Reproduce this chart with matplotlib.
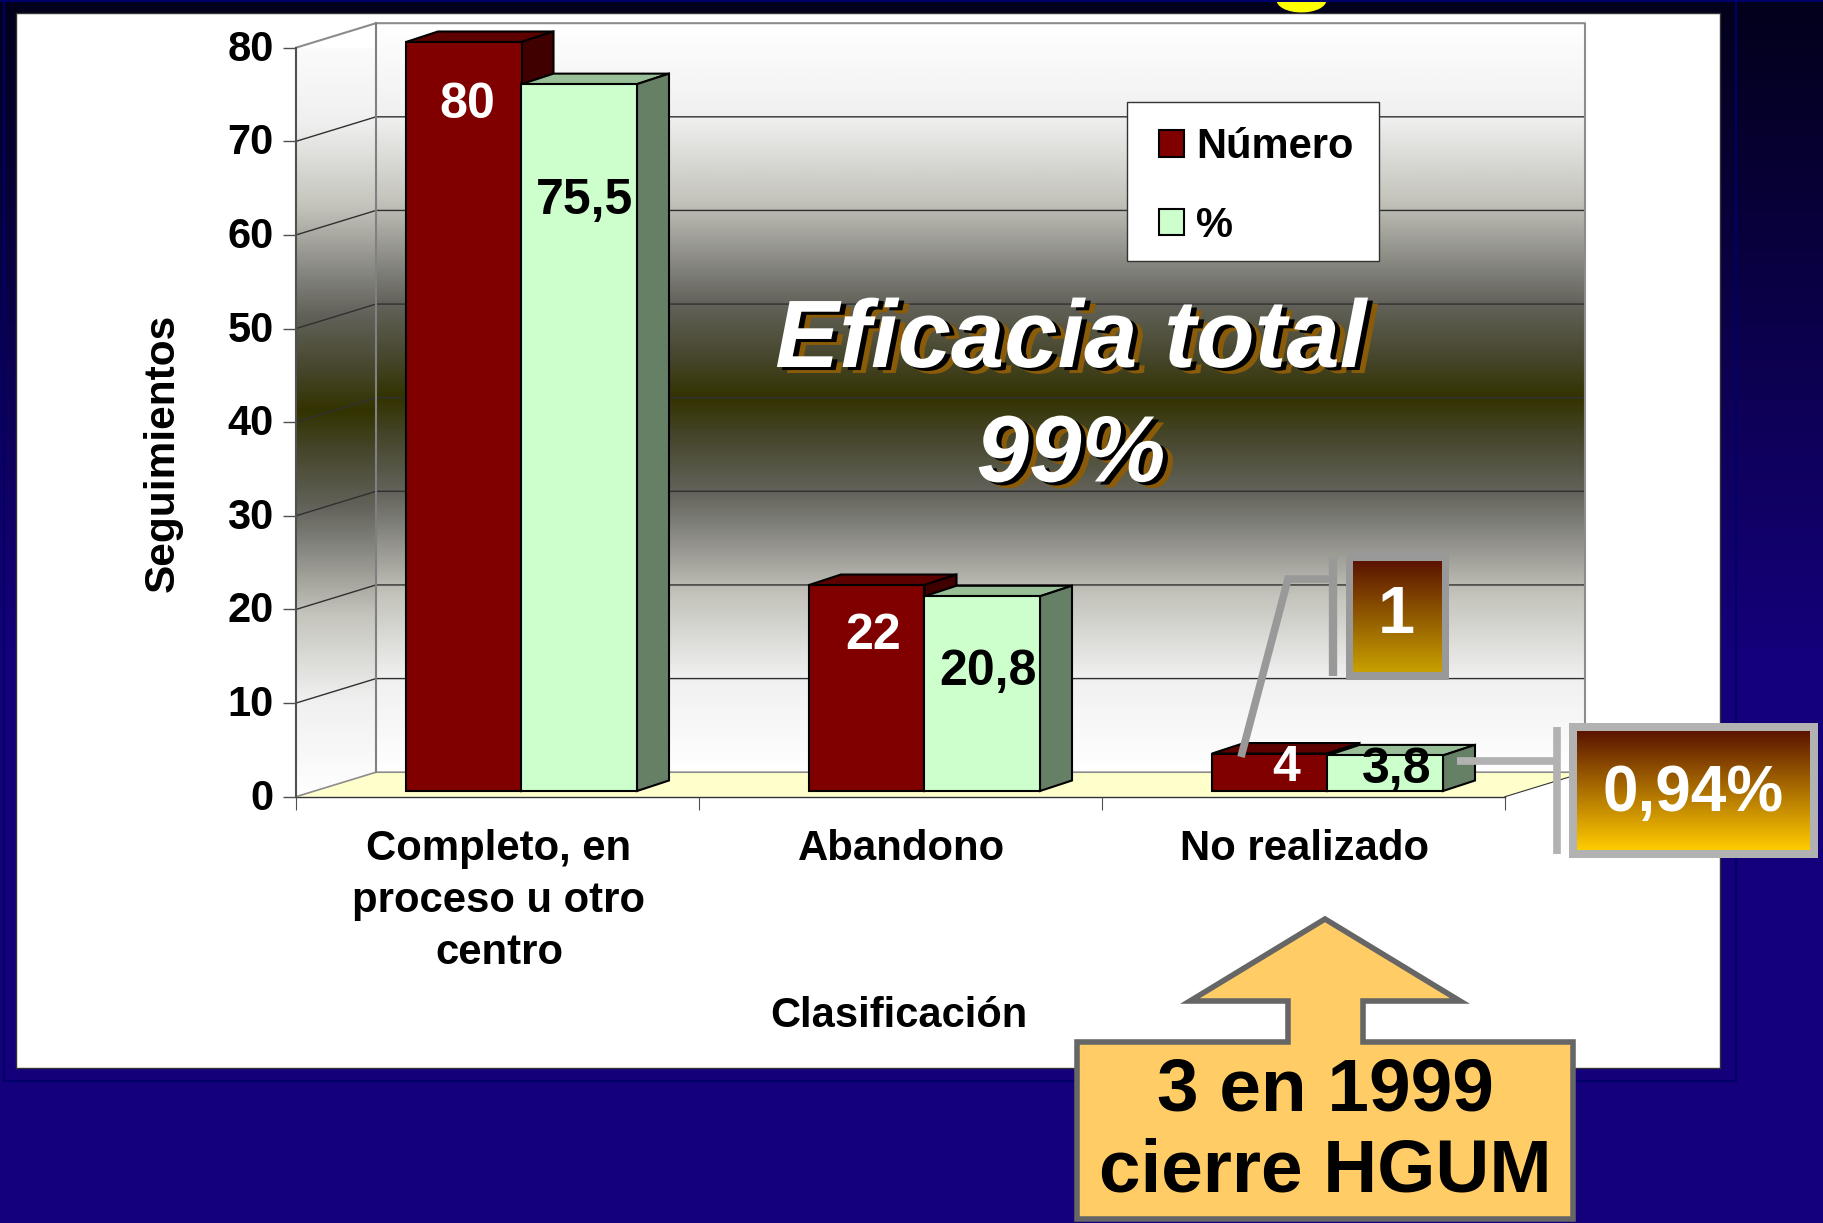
"""
Seguimientos por clasificacion: pseudo 3D columns on a slide background
"""

import matplotlib.patheffects as pe
import matplotlib.pyplot as plt
from matplotlib.colors import LinearSegmentedColormap
from matplotlib.lines import Line2D
from matplotlib.patches import Ellipse, Polygon, Rectangle
from matplotlib.transforms import Affine2D
import numpy as np

# * Data
CATEGORIES = ["Completo, en\nproceso u otro\ncentro", "Abandono", "No realizado"]
NUMERO = [80, 22, 4]
PORCENTAJE = [75.5, 20.8, 3.8]
NUMERO_LABELS = ["80", "22", "4"]
PORCENTAJE_LABELS = ["75,5", "20,8", "3,8"]
Y_TICKS = [0, 10, 20, 30, 40, 50, 60, 70, 80]

# * Layout, in pixels of the final image
W, H = 1824, 1223
AX_X0, AX_X1, AX_Y0, AX_Y80 = 296, 1505, 796.7, 47.7
CAT_PX = (AX_X1 - AX_X0) / 3
UNIT_PX = (AX_Y0 - AX_Y80) / 80
WALL_DX, WALL_DY = 80 / CAT_PX, 24.5 / UNIT_PX
BAR_W = 115.5 / CAT_PX
BAR_DX, BAR_DY = 32 / CAT_PX, 10.5 / UNIT_PX
NUM_OFFSETS = [(4, -63), (6, -51), (16, -14)]
PCT_OFFSETS = [(5, -117), (6, -76), (11, -15)]

FONT = "Liberation Sans"
RED, RED_TOP, RED_SIDE = "#800000", "#5c0000", "#400000"
GREEN, GREEN_TOP, GREEN_SIDE = "#ccffcc", "#99bf99", "#668066"
BOX_TOP = "#5a1400"
# Wall shading goes through neutral greys, olive only near the middle
WALL_COLORS = [
    (0.0, "#ffffff"), (0.125, "#f0f0f0"), (0.235, "#c4c4bc"), (0.33, "#80807a"),
    (0.375, "#62625a"), (0.45, "#45452a"), (0.5, "#333300"), (0.55, "#45452a"),
    (0.625, "#62625a"), (0.67, "#80807a"), (0.765, "#c4c4bc"), (0.875, "#f0f0f0"),
    (1.0, "#ffffff"),
]


def gradient(ax, extent, colors, **kwargs):
    """Vertical gradient image, first colour at the top of the extent"""
    cmap = LinearSegmentedColormap.from_list("grad", colors)
    values = np.linspace(0, 1, 512).reshape(-1, 1)
    return ax.imshow(
        values, cmap=cmap, extent=extent, origin="upper", aspect="auto",
        interpolation="bilinear", clip_on=False, **kwargs
    )


def draw_slide(bg):
    """Background, frame and white panel"""
    gradient(bg, (0, W, 650, 0), ["#02001a", "#14007a"], zorder=0)
    bg.add_patch(Rectangle((0, 650), W, H - 650, fc="#14007a", ec="none", zorder=0))
    bg.add_patch(Rectangle((4, 1), 1732, 1080, fc="none", ec="#00006a", lw=1.5, zorder=1))
    bg.add_patch(Ellipse((1301.5, 0), 50, 25, fc="#ffff00", ec="none", zorder=1))
    bg.add_patch(Rectangle((0, 0), W, 2, fc="#00006a", ec="none", zorder=1))
    bg.add_patch(Rectangle((16, 13), 1704, 1055, fc="white", ec="#333333", lw=1, zorder=2))


def draw_walls(ax):
    """Side wall, back wall, floor and gridlines"""
    side = Polygon(
        [(0, 0), (WALL_DX, WALL_DY), (WALL_DX, 80 + WALL_DY), (0, 80)],
        fc="none", ec="none", transform=ax.transData,
    )
    ax.add_patch(side)
    image = gradient(ax, (0, WALL_DX, 0, 80 + WALL_DY), WALL_COLORS, zorder=0.1)
    image.set_clip_on(True)
    image.set_clip_path(side)
    gradient(ax, (WALL_DX, 3 + WALL_DX, WALL_DY, 80 + WALL_DY), WALL_COLORS, zorder=0.1)
    ax.add_patch(
        Polygon(
            [(0, 0), (3, 0), (3 + WALL_DX, WALL_DY), (WALL_DX, WALL_DY)],
            fc="#ffffcc", ec="none", zorder=0.2, clip_on=False,
        )
    )
    for tick in Y_TICKS[1:-1]:
        ax.plot([0, WALL_DX, 3 + WALL_DX], [tick, tick + WALL_DY, tick + WALL_DY],
                color="#303030", lw=1, zorder=0.3, clip_on=False)
    ax.plot([0, 3], [0, 0], color="#333333", lw=1, zorder=0.3, clip_on=False)
    ax.plot([3, 3 + WALL_DX], [0, WALL_DY], color="#333333", lw=0.8, zorder=0.3, clip_on=False)
    ax.plot([0, WALL_DX, 3 + WALL_DX], [0, WALL_DY, WALL_DY],
            color="#8c8c8c", lw=1.2, zorder=0.3, clip_on=False)
    ax.plot([0, WALL_DX, 3 + WALL_DX, 3 + WALL_DX], [80, 80 + WALL_DY, 80 + WALL_DY, WALL_DY],
            color="#8c8c8c", lw=1.5, zorder=0.3, clip_on=False)
    ax.plot([WALL_DX, WALL_DX], [WALL_DY, 80 + WALL_DY],
            color="#808080", lw=1.5, zorder=0.3, clip_on=False)


def draw_series(ax, x, values, label, colors, shift, zorder):
    """Front face from ax.bar, with top and side faces on the same scale"""
    front, top, side = colors
    bars = ax.bar(
        x, values, BAR_W, color=front, edgecolor="black", linewidth=1.5,
        label=label, transform=shift, zorder=zorder + 0.1, clip_on=False,
    )
    for left, value in zip(x - BAR_W / 2, values):
        right = left + BAR_W
        top_face = [(left, value), (right, value),
                    (right + BAR_DX, value + BAR_DY), (left + BAR_DX, value + BAR_DY)]
        side_face = [(right, 0), (right + BAR_DX, BAR_DY),
                     (right + BAR_DX, value + BAR_DY), (right, value)]
        for verts, color in ((top_face, top), (side_face, side)):
            ax.add_patch(
                Polygon(verts, fc=color, ec="black", lw=1.5, transform=shift,
                        zorder=zorder, clip_on=False, joinstyle="miter")
            )
    return bars


def value_labels(ax, x, values, labels, offsets, color, shift):
    """Data labels anchored on the top of each column"""
    for xpos, value, text, offset in zip(x, values, labels, offsets):
        ax.annotate(
            text, xy=(xpos, value), xycoords=shift, xytext=offset,
            textcoords="offset pixels", ha="center", va="center", color=color,
            fontsize=36, fontweight="bold", family=FONT, zorder=5, annotation_clip=False,
        )


def callout(top, box, inner, color_end, border, text, text_xy, size):
    """Gradient box with thick grey border"""
    x0, y0, x1, y1 = box
    top.add_patch(Rectangle((x0, y0), x1 - x0, y1 - y0, fc=border, ec="none", zorder=2))
    ix0, iy0, ix1, iy1 = inner
    gradient(top, (ix0, ix1, iy1, iy0), [BOX_TOP, color_end], zorder=3)
    top.text(*text_xy, text, color="white", ha="center", va="center",
             fontsize=size, fontweight="bold", family=FONT, zorder=4)


def draw_overlay(top):
    """Leader lines, callouts, arrow note and big text"""
    grey_1, grey_2 = "#999999", "#b2b2b2"
    # Leader lines
    top.add_line(Line2D([1333, 1333], [557, 676], color=grey_1, lw=6, solid_capstyle="butt"))
    top.add_line(Line2D([1333, 1288, 1241], [579, 579, 757], color=grey_1, lw=5.5,
                        solid_capstyle="butt", solid_joinstyle="miter"))
    top.add_line(Line2D([1557.5, 1557.5], [727, 854], color=grey_2, lw=5.5, solid_capstyle="butt"))
    top.add_line(Line2D([1457, 1557], [761, 761], color=grey_2, lw=5.5, solid_capstyle="butt"))
    callout(top, (1346, 553, 1449, 680), (1353, 561, 1441.5, 672), "#c8a000", grey_1,
            "1", (1396, 616), 48)
    callout(top, (1569, 723, 1818, 858), (1577, 731, 1810, 850), "#ffcc00", grey_2,
            "0,94%", (1693, 794), 46)

    # Arrow note
    top.add_patch(
        Polygon(
            [(1325, 919), (1190, 1001), (1288, 1001), (1288, 1042), (1077, 1042),
             (1077, 1219), (1573, 1219), (1573, 1042), (1363, 1042), (1363, 1001),
             (1460, 1001)],
            fc="#ffcc66", ec="#666666", lw=4, joinstyle="miter", zorder=2,
        )
    )
    for text, ypos in (("3 en 1999", 1091), ("cierre HGUM", 1172)):
        top.text(1325, ypos, text, ha="center", va="center", fontsize=53.8,
                 fontweight="bold", family=FONT, color="black", zorder=4)

    # Big text, shadows as path effects (offsets in points)
    shadows = [
        pe.SimplePatchShadow(offset=(7.2, -4.3), shadow_rgbFace="#8a5c0a", alpha=1),
        pe.SimplePatchShadow(offset=(3.6, -2.2), shadow_rgbFace="black", alpha=1),
        pe.Normal(),
    ]
    for text, ypos, size in (("Eficacia total", 342, 69), ("99%", 457, 68)):
        top.text(1071, ypos, text, ha="center", va="center", color="white", fontsize=size,
                 fontweight="bold", fontstyle="italic", family=FONT, zorder=4,
                 path_effects=shadows)


def main() -> None:
    """Run script"""
    fig = plt.figure(figsize=(W / 100, H / 100), dpi=100)

    bg = fig.add_axes([0, 0, 1, 1], zorder=0)
    draw_slide(bg)

    ax = fig.add_axes(
        [AX_X0 / W, 1 - AX_Y0 / H, (AX_X1 - AX_X0) / W, (AX_Y0 - AX_Y80) / H], zorder=1
    )
    ax.patch.set_visible(False)
    draw_walls(ax)

    # * Columns stand slightly inside the floor
    shift = ax.transData + Affine2D().translate(24, 5.7)
    centers = np.arange(len(CATEGORIES)) + 0.5
    x_num = centers - BAR_W / 2
    x_pct = centers + BAR_W / 2
    bars_num = draw_series(ax, x_num, NUMERO, "Número", (RED, RED_TOP, RED_SIDE), shift, 1)
    bars_pct = draw_series(ax, x_pct, PORCENTAJE, "%", (GREEN, GREEN_TOP, GREEN_SIDE), shift, 2)
    value_labels(ax, x_num, NUMERO, NUMERO_LABELS, NUM_OFFSETS, "white", shift)
    value_labels(ax, x_pct, PORCENTAJE, PORCENTAJE_LABELS, PCT_OFFSETS, "black", shift)

    ax.set_xlim(0, 3)
    ax.set_ylim(0, 80)
    for name in ("top", "right"):
        ax.spines[name].set_visible(False)
    ax.spines["left"].set_color("#505050")
    ax.spines["left"].set_linewidth(1.5)
    ax.spines["bottom"].set_visible(False)
    ax.set_yticks(Y_TICKS)
    ax.set_xticks(range(4))
    ax.set_xticklabels([])
    ax.set_xticks(centers, labels=CATEGORIES, minor=True)
    ax.tick_params(axis="y", length=9.5, width=1, color="#505050", pad=6.5, labelsize=30)
    ax.tick_params(axis="x", which="major", length=9.5, width=0.8, color="#505050")
    ax.tick_params(axis="x", which="minor", length=0, pad=23.5, labelsize=30.2)
    for label in ax.get_xticklabels(minor=True) + ax.get_yticklabels():
        label.set_fontfamily(FONT)
        label.set_fontweight("bold")
    for label in ax.get_xticklabels(minor=True):
        label.set_linespacing(1.38)
        label.set_transform(label.get_transform() + Affine2D().translate(1.5, 0))
    for label in ax.get_yticklabels():
        label.set_transform(label.get_transform() + Affine2D().translate(0, 2.5))

    ax.set_xlabel("Clasificación", fontsize=30, fontweight="bold", family=FONT, va="center")
    ax.xaxis.set_label_coords(0.4988, (AX_Y0 - 1016) / (AX_Y0 - AX_Y80))
    ax.set_ylabel("Seguimientos", fontsize=30.5, fontweight="bold", family=FONT, va="center")
    ax.yaxis.set_label_coords((162.5 - AX_X0) / (AX_X1 - AX_X0), (AX_Y0 - 453) / (AX_Y0 - AX_Y80))

    bg.set_xlim(0, W)
    bg.set_ylim(H, 0)
    bg.axis("off")

    # * Legend frame drawn apart since its padding differs per side
    ax.add_patch(
        Rectangle((1127, 102), 252, 159, fc="white", ec="#333333", lw=1, zorder=5.5,
                  transform=bg.transData, clip_on=False)
    )
    legend = ax.legend(
        handles=[bars_num, bars_pct], loc="upper left", bbox_to_anchor=(1159, 127),
        bbox_transform=bg.transData, borderaxespad=0, borderpad=0, handlelength=0.6,
        handleheight=0.6, handletextpad=0.3, labelspacing=0.93, frameon=False,
        prop={"family": FONT, "weight": "bold", "size": 30},
    )
    legend.set_zorder(6)

    top = fig.add_axes([0, 0, 1, 1], zorder=2)
    top.patch.set_visible(False)
    draw_overlay(top)
    top.set_xlim(0, W)
    top.set_ylim(H, 0)
    top.axis("off")

    fig.savefig("out.png", dpi=100)


if __name__ == "__main__":
    main()
